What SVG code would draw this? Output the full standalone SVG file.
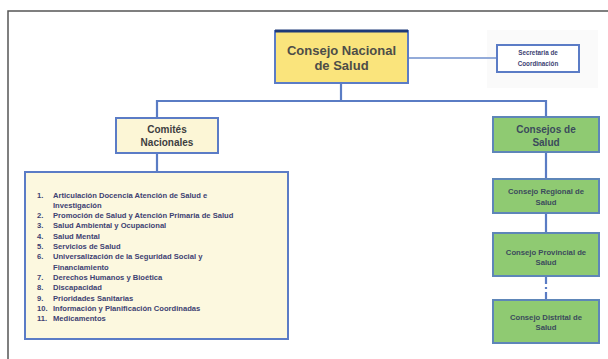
<svg xmlns="http://www.w3.org/2000/svg" width="608" height="359" viewBox="0 0 608 359">
<style>
text{font-family:"Liberation Sans",Arial,sans-serif;font-weight:bold;}
.c{text-anchor:middle;}
.ln{stroke:#5a7cc4;stroke-width:2.2;fill:none;}
.box{stroke:#5b7cc6;stroke-width:2;}
.g{fill:#8fca72;stroke:#5e86b8;stroke-width:2;}
.gt{fill:#3b4a5c;font-size:7.7px;}
.li{fill:#3c4272;font-size:7.6px;}
</style>
<rect width="608" height="359" fill="#ffffff"/>
<path d="M8 359 V11 H608" fill="none" stroke="#555" stroke-width="1.5"/>
<rect x="487" y="30" width="111" height="58" fill="#fafafa"/>
<g id="connectors">
<line x1="408" y1="58" x2="497" y2="58" stroke="#93abd9" stroke-width="2"/>
<path class="ln" d="M341 83 V101 M157 101 H546 M157 100 V118 M546 100 V117"/>
<path class="ln" d="M157 153 V172"/>
<path class="ln" d="M546 152 V179 M546 213 V233"/>
<path class="ln" d="M546 276 V300" stroke-dasharray="8 3 2 3"/>
</g>
<g id="consejo-nacional">
<rect x="275" y="31" width="133" height="52" fill="#fae47c" class="box"/>
<line x1="275" y1="31" x2="408" y2="31" stroke="#1e3a78" stroke-width="3"/>
<text class="c" x="341.5" y="55" font-size="13" fill="#4d4d48">Consejo Nacional</text>
<text class="c" x="341.5" y="70" font-size="13" fill="#4d4d48">de Salud</text>
</g>
<g id="secretaria">
<rect x="497" y="45" width="82" height="27" fill="#ffffff" class="box"/>
<text class="c" x="538" y="54.5" font-size="6.3" fill="#3c4272">Secretaria de</text>
<text class="c" x="538" y="65.5" font-size="6.3" fill="#3c4272">Coordinación</text>
</g>
<g id="comites">
<rect x="116" y="118" width="102" height="35" fill="#fcf6d6" class="box"/>
<text class="c" x="167" y="132.5" font-size="10" fill="#3e3e40">Comités</text>
<text class="c" x="167" y="145.5" font-size="10" fill="#3e3e40">Nacionales</text>
</g>
<g id="lista">
<rect x="25" y="172" width="263" height="167" fill="#fcf8df" class="box"/>
<g class="li">
<text x="37" y="197.5">1.</text><text x="53" y="197.5">Articulación Docencia Atención de Salud e</text>
<text x="53" y="207.8">Investigación</text>
<text x="37" y="218.1">2.</text><text x="53" y="218.1">Promoción de Salud y Atención Primaria de Salud</text>
<text x="37" y="228.4">3.</text><text x="53" y="228.4">Salud Ambiental y Ocupacional</text>
<text x="37" y="238.7">4.</text><text x="53" y="238.7">Salud Mental</text>
<text x="37" y="249">5.</text><text x="53" y="249">Servicios de Salud</text>
<text x="37" y="259.3">6.</text><text x="53" y="259.3">Universalización de la Seguridad Social y</text>
<text x="53" y="269.6">Financiamiento</text>
<text x="37" y="279.9">7.</text><text x="53" y="279.9">Derechos Humanos y Bioética</text>
<text x="37" y="290.2">8.</text><text x="53" y="290.2">Discapacidad</text>
<text x="37" y="300.5">9.</text><text x="53" y="300.5">Prioridades Sanitarias</text>
<text x="37" y="310.8">10.</text><text x="53" y="310.8">Información y Planificación Coordinadas</text>
<text x="37" y="321.1">11.</text><text x="53" y="321.1">Medicamentos</text>
</g>
</g>
<g id="consejos-salud">
<rect x="493" y="117" width="106" height="35" class="g"/>
<text class="c" x="546" y="132.5" font-size="10" fill="#3b4a5c">Consejos de</text>
<text class="c" x="546" y="145.5" font-size="10" fill="#3b4a5c">Salud</text>
</g>
<g id="regional">
<rect x="493" y="179" width="106" height="34" class="g"/>
<text class="gt c" x="546" y="193.5">Consejo Regional de</text>
<text class="gt c" x="546" y="204.5">Salud</text>
</g>
<g id="provincial">
<rect x="493" y="233" width="106" height="43" class="g"/>
<text class="gt c" x="546" y="254.5">Consejo Provincial de</text>
<text class="gt c" x="546" y="264.5">Salud</text>
</g>
<g id="distrital">
<rect x="493" y="300" width="106" height="43" class="g"/>
<text class="gt c" x="546" y="319.5">Consejo Distrital de</text>
<text class="gt c" x="546" y="329.5">Salud</text>
</g>
</svg>
